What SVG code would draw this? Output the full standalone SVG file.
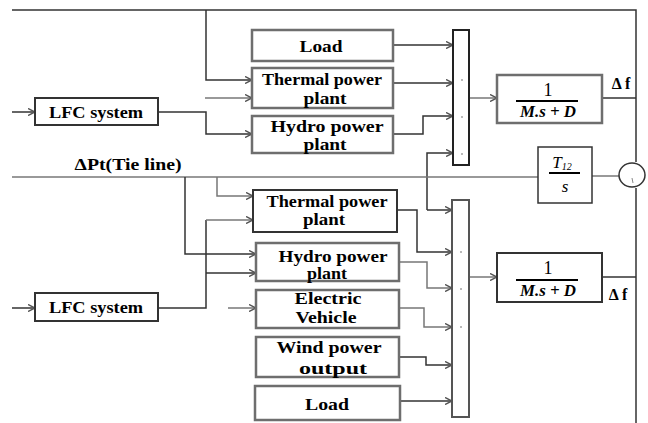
<svg xmlns="http://www.w3.org/2000/svg" width="648" height="423" viewBox="0 0 648 423">
<defs>
<style>
.box{fill:#fff;stroke:#333;stroke-width:2}
.gbox{fill:#fff;stroke:#6e6e6e;stroke-width:2.5}
.bar{fill:#fff;stroke:#222;stroke-width:2}
.ln{fill:none;stroke:#333;stroke-width:1.5}
.gl{fill:none;stroke:#777;stroke-width:1.5}
.ar{fill:none;stroke:#333;stroke-width:1.5;marker-end:url(#ah)}
.ga{fill:none;stroke:#777;stroke-width:1.5;marker-end:url(#ah)}
.t{font-family:"Liberation Serif",serif;font-weight:bold;font-size:16px;fill:#000;text-anchor:middle}
.one{font-family:"Liberation Serif",serif;font-size:18px;fill:#000;text-anchor:middle}
.m{font-family:"Liberation Serif",serif;font-style:italic;font-weight:bold;font-size:16px;fill:#000;text-anchor:middle}
.mi{font-family:"Liberation Serif",serif;font-style:italic;font-size:17px;fill:#000;text-anchor:middle}
.tick{stroke:#777;stroke-width:1.2}
</style>
<marker id="ah" markerWidth="8" markerHeight="8" refX="7" refY="4" orient="auto" markerUnits="userSpaceOnUse">
<path d="M0,0.5 L7,4 L0,7.5" fill="none" stroke="#555" stroke-width="1.5"/>
</marker>
</defs>

<g id="connectors">
<path class="ln" d="M12,10 H636 V162"/>
<path class="ar" d="M206,10 V80 H252"/>
<path class="ar" d="M12,112 H35"/>
<path class="ar" d="M158,112 H206 V134 H252"/>
<path class="ga" d="M205,98 H252"/>
<path class="ar" d="M393,45 H453"/>
<path class="ar" d="M393,83 H453"/>
<path class="ar" d="M393,134 H423 V116 H453"/>
<path class="ar" d="M427,210 V153 H453"/>
<path class="ar" d="M427,210 H452"/>
<path class="ga" d="M469,98 H497"/>
<path class="ln" d="M602,98 H636"/>
<path class="gl" d="M12,177 H538"/>
<path class="gl" d="M592,176 H620"/>
<path class="ln" d="M636,188 V423"/>
<path class="ar" d="M185,177 V254 H256"/>
<path class="ga" d="M217,177 V196 H253"/>
<path class="ar" d="M12,308 H35"/>
<path class="ln" d="M158,308 H206 V220"/>
<path class="ga" d="M206,220 H253"/>
<path class="ar" d="M206,273 H256"/>
<path class="ga" d="M228,308 H256"/>
<path class="ar" d="M397,210 H417 V252 H452"/>
<path class="ga" d="M399,262 H427 V288 H452"/>
<path class="ga" d="M399,308 H424 V327 H452"/>
<path class="ar" d="M399,357 H426 V365 H452"/>
<path class="ar" d="M400,401 H452"/>
<path class="ga" d="M469,277 H497"/>
<path class="ln" d="M602,277 H636"/>
</g>

<g id="lfc-top"><rect class="box" x="35" y="98" width="123" height="27"/><text class="t" x="96" y="118" textLength="94" lengthAdjust="spacingAndGlyphs">LFC system</text></g>
<g id="load-top"><rect class="gbox" x="252" y="30" width="141" height="31"/><text class="t" x="321" y="52" textLength="43" lengthAdjust="spacingAndGlyphs">Load</text></g>
<g id="thermal-top"><rect class="gbox" x="252" y="68" width="141" height="40"/><text class="t" x="322" y="85" textLength="120" lengthAdjust="spacingAndGlyphs">Thermal power</text><text class="t" x="325" y="104" textLength="43" lengthAdjust="spacingAndGlyphs">plant</text></g>
<g id="hydro-top"><rect class="gbox" x="252" y="116" width="141" height="37"/><text class="t" x="327" y="132" textLength="113" lengthAdjust="spacingAndGlyphs">Hydro power</text><text class="t" x="325" y="150" textLength="43" lengthAdjust="spacingAndGlyphs">plant</text></g>
<g id="sum-top"><rect class="bar" x="453" y="30" width="16" height="135"/><line class="tick" x1="461" y1="80" x2="463" y2="80"/><line class="tick" x1="461" y1="117" x2="463" y2="117"/><line class="tick" x1="461" y1="154" x2="463" y2="154"/></g>
<g id="plant-top"><rect class="gbox" x="497" y="75" width="105" height="48"/><text class="one" x="548" y="96">1</text><line x1="516" y1="101" x2="578" y2="101" stroke="#000" stroke-width="2"/><text class="m" x="548" y="117" textLength="56" lengthAdjust="spacingAndGlyphs">M.s + D</text></g>
<g id="df-top"><text class="t" x="621" y="89" style="font-size:16px">Δ f</text></g>
<g id="tie-label"><text class="t" x="128" y="170" textLength="107" lengthAdjust="spacingAndGlyphs">ΔPt(Tie line)</text></g>
<g id="tie-block"><rect class="box" x="538" y="147" width="54" height="56" style="stroke-width:1.5"/><text class="mi" x="562" y="168">T<tspan font-size="10" dy="2">12</tspan></text><line x1="549" y1="173" x2="580" y2="173" stroke="#000" stroke-width="2"/><text class="mi" x="565" y="192">s</text></g>
<g id="sum-junction"><ellipse cx="632" cy="175" rx="13" ry="12" fill="#fff" stroke="#333" stroke-width="1.5"/><line x1="632" y1="178" x2="633" y2="183" stroke="#888" stroke-width="1"/></g>

<g id="lfc-bottom"><rect class="box" x="35" y="293" width="123" height="28"/><text class="t" x="96" y="313" textLength="94" lengthAdjust="spacingAndGlyphs">LFC system</text></g>
<g id="thermal-bottom"><rect class="box" x="253" y="190" width="144" height="42"/><text class="t" x="327" y="207" textLength="121" lengthAdjust="spacingAndGlyphs">Thermal power</text><text class="t" x="324" y="225" textLength="42" lengthAdjust="spacingAndGlyphs">plant</text></g>
<g id="hydro-bottom"><rect class="gbox" x="256" y="243" width="143" height="38"/><text class="t" x="333" y="262" textLength="109" lengthAdjust="spacingAndGlyphs">Hydro power</text><text class="t" x="327" y="279" textLength="40" lengthAdjust="spacingAndGlyphs">plant</text></g>
<g id="ev"><rect class="gbox" x="256" y="290" width="143" height="38"/><text class="t" x="328" y="304" textLength="67" lengthAdjust="spacingAndGlyphs">Electric</text><text class="t" x="326" y="323" textLength="61" lengthAdjust="spacingAndGlyphs">Vehicle</text></g>
<g id="wind"><rect class="gbox" x="256" y="337" width="143" height="40"/><text class="t" x="329" y="353" textLength="105" lengthAdjust="spacingAndGlyphs">Wind power</text><text class="t" x="333" y="374" textLength="68" lengthAdjust="spacingAndGlyphs">output</text></g>
<g id="load-bottom"><rect class="gbox" x="255" y="386" width="145" height="34"/><text class="t" x="327" y="410" textLength="44" lengthAdjust="spacingAndGlyphs">Load</text></g>
<g id="sum-bottom"><rect class="bar" x="452" y="200" width="17" height="217" style="stroke:#555"/><line class="tick" x1="460" y1="252" x2="462" y2="252"/><line class="tick" x1="460" y1="289" x2="462" y2="289"/><line class="tick" x1="460" y1="327" x2="462" y2="327"/></g>
<g id="plant-bottom"><rect class="box" x="497" y="253" width="105" height="49"/><text class="one" x="548" y="274">1</text><line x1="516" y1="280" x2="578" y2="280" stroke="#000" stroke-width="2"/><text class="m" x="548" y="296" textLength="56" lengthAdjust="spacingAndGlyphs">M.s + D</text></g>
<g id="df-bottom"><text class="t" x="618" y="300" style="font-size:16px">Δ f</text></g>
</svg>
